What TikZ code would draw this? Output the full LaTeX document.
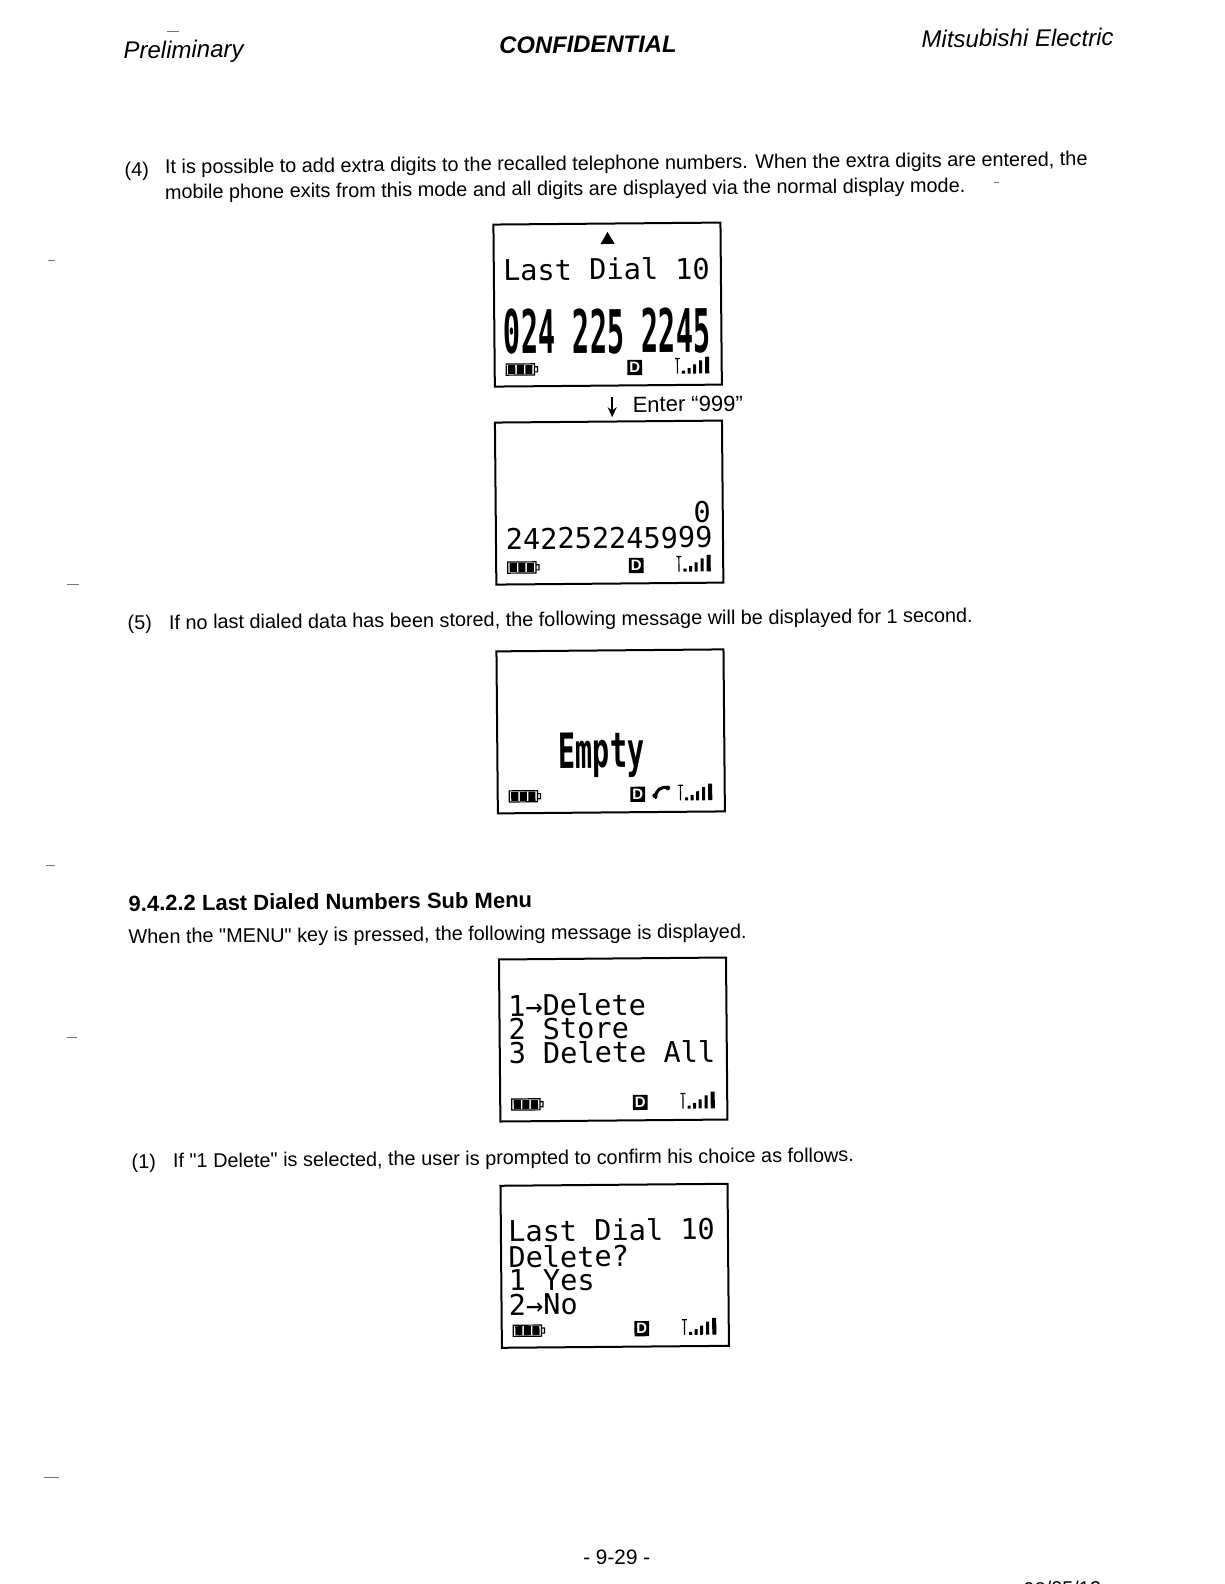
\documentclass[tikz,border=0pt]{standalone}
\usepackage{fontspec}
\setmainfont{Liberation Sans}
\newfontfamily\straightfont{Liberation Sans}
\newfontfamily\lcdfont{DejaVu Sans Mono}
\usetikzlibrary{arrows.meta}
\tikzset{
  bodytext/.style={anchor=base west,inner sep=0pt,rotate=0.5,font=\fontsize{9.93}{12}\selectfont},
  entertext/.style={anchor=base west,inner sep=0pt,rotate=0.5,font=\fontsize{11}{13}\selectfont},
  pagetext/.style={anchor=base west,inner sep=0pt,rotate=0.5,font=\fontsize{10.4}{12}\selectfont},
  headtext/.style={anchor=base west,inner sep=0pt,rotate=0.5,font=\fontsize{12}{14}\selectfont\itshape},
  headbold/.style={anchor=base west,inner sep=0pt,rotate=0.5,font=\fontsize{11.9}{14}\selectfont\itshape\bfseries},
  sectext/.style={anchor=base west,inner sep=0pt,rotate=0.5,font=\fontsize{11}{13}\selectfont\bfseries},
  lcdframe/.style={draw=black,line width=1pt,minimum width=113.5pt,minimum height=81pt,inner sep=0pt},
  lcdtext/.style={anchor=base west,inner sep=0pt,font=\lcdfont\fontsize{14.3}{15}\selectfont},
  lcdtall/.style={lcdtext,yscale=2.1,font=\lcdfont\bfseries\fontsize{14.3}{15}\selectfont},
  lcdempty/.style={lcdtext,yscale=1.7,font=\lcdfont\bfseries\fontsize{14.3}{15}\selectfont},
  speck/.style={draw=black!55,line width=0.4pt},
}
\newcommand{\lcdstatus}[1]{%
  % battery
  \draw[line width=0.6pt] (-101,58) rectangle (-73,69);
  \fill (-99,59) rectangle (-92,68);
  \fill (-90.5,59) rectangle (-83.5,68);
  \fill (-82,59) rectangle (-75,68);
  \draw[line width=0.6pt] (-73,61) -- (-70,61) -- (-70,66) -- (-73,66);
  % D
  \fill (19,55) rectangle (33.5,70);
  \node[inner sep=0pt,text=white,font=\fontsize{7.5}{8}\selectfont\bfseries] (dmark#1) at (26.2,62.5) {D};
  % antenna and bars
  \draw[line width=0.6pt] (66,54) -- (71,54) (68.5,54) -- (68.5,69);
  \fill (73,66) rectangle (76,69);
  \fill (78.5,63.5) rectangle (81.5,69);
  \fill (84,60) rectangle (87,69);
  \fill (90,56) rectangle (93,69);
  \fill (96,52.5) rectangle (100,69);
}
\newcommand{\lcdbox}[4]{%
  \begin{scope}[shift={(#2,#3)},rotate=0.5,transform shape]
    \node[lcdframe] (#1) at (0,0) {};
    \lcdstatus{#1}
    #4
  \end{scope}}
\begin{document}
\begin{tikzpicture}[x=0.505pt,y=-0.505pt]
\useasboundingbox (0,0) rectangle (1212,1568);
\fill[white] (0,0) rectangle (1212,1568);
% scan marks
\path[speck] (48,258) -- (54,258) (66,578) -- (78,578) (46,857) -- (54,857)
  (66,1027) -- (76,1027) (44,1462) -- (58,1462) (165,31) -- (177,31) (984,181) -- (989,181);
% header
\node[headtext] (hleft) at (122,58) {Preliminary};
\node[headbold] (hmid) at (494,53) {CONFIDENTIAL};
\node[headtext] (hright) at (912,47) {Mitsubishi Electric};
% (4)
\node[bodytext] (n4) at (123,175) {(4)};
\node[bodytext] (p4a) at (163,172) {It is possible to add extra digits to the recalled telephone numbers. When the extra digits are entered, the};
\node[bodytext] (p4b) at (163,197) {mobile phone exits from this mode and all digits are displayed via the normal display mode.};
% screen 1
\lcdbox{s1}{601.5}{301.5}{
  \fill (0.5,-72) -- (-6.5,-60) -- (7.5,-60) -- cycle;
  \node[lcdtext] (s1a) at (-103.5,-24.5) {Last Dial 10};
  \node[lcdtall] (s1b) at (-103.5,48) {024 225 2245};
}
% arrow
\coordinate (atop) at (606,393);
\coordinate (atip) at (606,413);
\draw[line width=0.7pt,-{Stealth[length=5pt,width=4.5pt]}] (atop) -- (atip);
\node[entertext] (enter) at (626,408) {Enter “999”};
% screen 2
\lcdbox{s2}{603}{497.5}{
  \node[lcdtext] (s2a) at (83,20.5) {0};
  \node[lcdtext] (s2b) at (-103,45.5) {242252245999};
}
% (5)
\node[bodytext] (n5) at (126,623) {(5)};
\node[bodytext] (p5) at (167,623) {If no last dialed data has been stored, the following message will be displayed for 1 second.};
% screen 3
\lcdbox{s3}{604.5}{724}{
  \node[lcdempty] (s3a) at (-52.5,36) {Empty};
  \draw[line width=1.5pt,line cap=round] (44,66) .. controls (44,58) and (49,55) .. (57,56);
  \fill (43,64) circle (2.3);
  \fill (56,56.5) circle (2.3);
}
% section
\node[sectext] (sec) at (127,902) {9.4.2.2 Last Dialed Numbers Sub Menu};
\node[bodytext] (p6) at (127,934) {\straightfont When the "MENU" key is pressed, the following message is displayed.};
% screen 4
\lcdbox{s4}{607}{1029}{
  \node[lcdtext] (s4a) at (-104,-24) {1→Delete};
  \node[lcdtext] (s4b) at (-104,-1) {2 Store};
  \node[lcdtext] (s4c) at (-104,23) {3 Delete All};
}
% (1)
\node[bodytext] (n1) at (130,1157) {(1)};
\node[bodytext] (p7) at (171,1156) {\straightfont If "1 Delete" is selected, the user is prompted to confirm his choice as follows.};
% screen 5
\lcdbox{s5}{608.5}{1253}{
  \node[lcdtext] (s5a) at (-105.5,-25) {Last Dial 10};
  \node[lcdtext] (s5b) at (-105.5,1) {Delete?};
  \node[lcdtext] (s5c) at (-105.5,24) {1 Yes};
  \node[lcdtext] (s5d) at (-105.5,48) {2→No};
}
% footer
\node[pagetext] (pg) at (577,1549) {- 9-29 -};
\node[bodytext] (date) at (1013,1580) {98/05/12};
\end{tikzpicture}
\end{document}
